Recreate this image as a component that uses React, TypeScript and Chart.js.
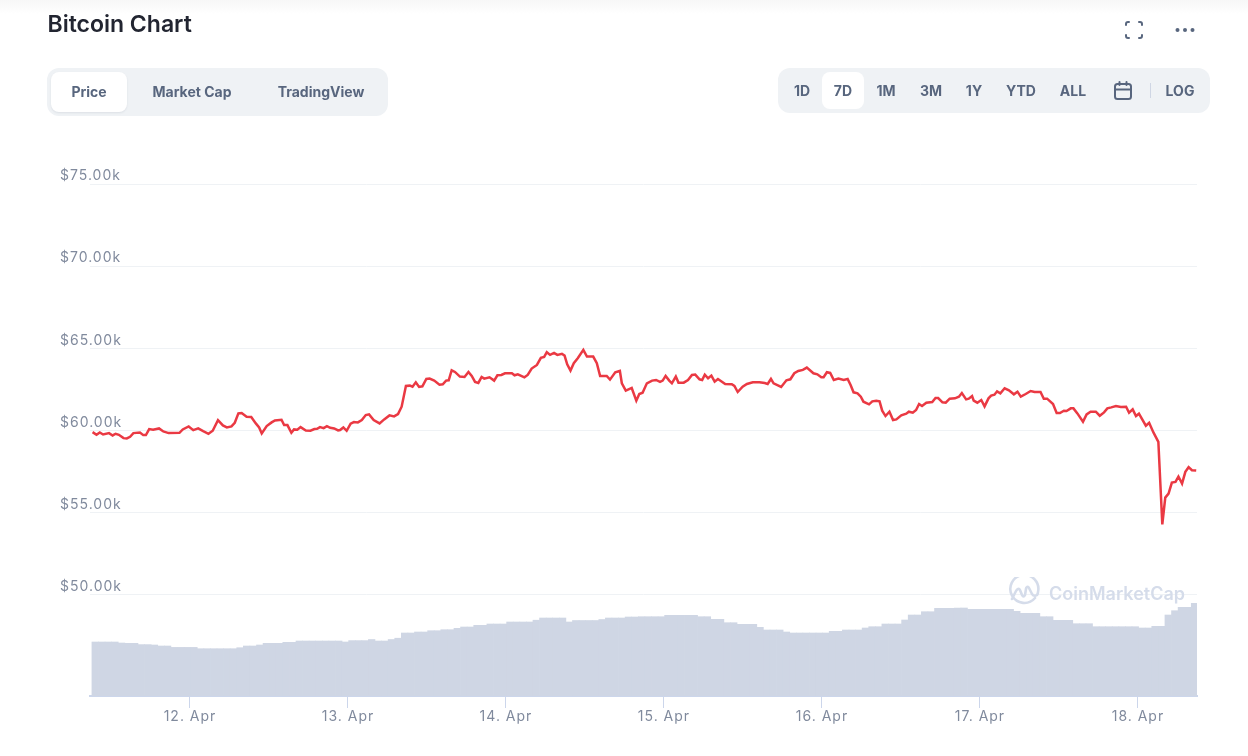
import React, { useEffect, useRef } from "react";
import { Chart, registerables } from "chart.js";

Chart.register(...registerables);

// Hours since 12 Apr 00:00
const priceHours = [
  -14.8,-14.2,-13.7,-13.2,-12.3,-11.75,-11.3,-10.8,-10.1,-9.6,-9.1,-8.6,-7.6,-7.1,-6.7,-6.2,-5.6,-4.7,-4.05,-3.25,-1.6,-1.1,-0.2,0.5,1.25,2.0,2.8,3.45,4.25,5.0,5.6,6.3,6.8,7.35,7.85,8.6,9.3,10.0,10.5,10.9,11.65,12.4,12.9,13.9,14.3,14.8,15.4,15.8,16.3,16.8,17.6,18.3,
  18.9,19.3,19.75,20.3,20.8,21.3,21.9,22.5,22.8,23.3,23.8,24.4,24.9,25.5,26.1,26.7,27.2,27.9,28.8,29.5,30.3,31.0,31.6,32.15,32.8,33.4,33.8,34.3,34.8,35.3,35.9,36.4,37.1,37.9,38.4,38.9,39.3,39.75,40.25,41.0,41.7,42.3,42.8,43.3,43.8,44.3,44.7,45.5,46.2,46.7,47.3,47.85,48.9,49.3,49.8,50.8,51.3,51.9,
  52.7,53.3,53.8,54.2,54.7,55.3,55.8,56.5,56.9,57.3,57.8,58.3,58.9,59.75,60.3,61.25,61.8,62.3,63.3,63.8,64.6,65.3,65.6,66.2,67.1,67.8,68.25,68.75,69.4,70.2,70.8,71.4,71.8,72.25,72.8,73.2,73.8,74.2,75.0,75.65,76.25,76.75,77.4,77.8,78.2,78.7,79.2,79.7,80.2,81.3,82.3,82.7,83.2,83.95,84.6,85.5,
  86.5,87.3,87.75,88.25,88.65,89.8,90.6,91.2,91.8,92.4,93.1,93.7,94.7,95.3,95.9,96.25,96.75,97.25,97.8,98.5,99.3,99.9,100.35,100.8,101.4,101.9,102.3,103.15,103.65,104.25,104.75,105.15,105.65,106.25,106.8,107.3,108.05,108.8,109.2,109.8,110.3,110.75,111.2,111.85,112.75,113.25,113.65,114.3,114.8,115.4,116.2,116.8,117.25,117.9,118.3,118.8,119.05,
  119.6,120.2,120.7,121.3,121.7,122.2,122.6,123.1,123.75,124.4,125.15,125.7,126.2,126.95,127.7,128.3,129.2,129.7,130.2,131.1,131.65,132.15,132.75,133.15,133.8,134.2,134.8,135.65,136.2,136.8,137.6,138.2,138.85,139.35,139.95,140.65,141.4,142.2,142.65,143.2,143.7,144.15,145.2,145.7,146.35,147.1,147.7,148.15,148.65,149.15,149.7,150.15,150.7,151.2,151.7,152.2,152.85,
];

// USD
const priceValues = [
  59908,59746,59888,59766,59847,59705,59807,59746,59542,59522,59624,59847,59888,59725,59725,60091,60050,60132,59949,59847,59868,60071,60254,60030,60132,59969,59807,59990,60640,60315,60193,60254,60478,61047,61067,60844,60823,60437,60193,59827,60274,60498,60620,60660,60335,60335,59868,60071,60050,60213,60010,59990,
  60092,60112,60214,60153,60275,60173,60132,60011,60031,60194,59990,60417,60519,60498,60641,60946,60987,60641,60438,60682,60925,60864,61007,61454,62715,62735,62674,62938,62653,62694,63141,63162,63040,62796,62816,63040,63060,63670,63568,63284,63263,63568,63324,62958,62897,63263,63162,63243,63040,63365,63385,63487,63487,63365,63426,63243,63385,63772,
  63995,64422,64483,64768,64605,64727,64605,64666,64564,64036,63650,64097,64402,64910,64504,64504,64097,63324,63324,63101,63548,63629,62877,62430,62592,61820,62227,62308,62877,63040,63080,62958,63040,63324,63040,62877,63284,62918,62918,63080,63385,63406,63121,63080,63406,63182,63345,62979,63141,62836,62816,62714,62349,62674,62836,62938,
  62938,62897,62836,63141,62877,62653,63060,63121,63487,63629,63690,63832,63487,63426,63243,63243,63548,63507,63080,63161,63080,63141,62775,62328,62267,62064,61759,61596,61779,61820,61779,61210,60885,61149,60641,60681,60925,61027,61149,61088,61251,61616,61494,61698,61738,61982,61982,61718,61698,61942,61962,62064,62287,61901,61942,62104,61820,
  61698,61860,61474,61962,62124,62185,62389,62267,62572,62450,62206,62368,62063,62226,62409,62348,62348,61941,61941,61616,61067,61067,61210,61189,61352,61352,61047,60539,60986,61149,61149,60905,61108,61352,61413,61494,61433,61454,61088,61291,60884,61027,60295,60478,59888,59319,54297,55924,56168,56839,56879,57205,56778,57489,57774,57591,57571,
];

// 24h volume in USD billions, one value per hour, first value at hour -14.4
const volumeStartHour = -14.4;
const volumeValues = [
  54,54,54,54,53,52.7,52.7,51.4,51.4,51,50,50,48.6,48.6,48.6,48.6,47.3,47.3,47.3,47.3,47.3,47.3,48.3,50,50,51,52.7,52.7,52.7,53.7,53.7,55,55,55,55,55,55,55,54,55.4,55.4,55.4,
  56.5,55,55,56.5,57.8,63,63,64,64,65.3,65.3,66.3,66.3,67.7,69,69,70.7,70.7,72,72,72,74,74,74,74,75.8,78,78,78,78,74,75.5,75.5,75.5,75.5,76.5,78,78,78,79,79,79.3,
  79.3,79.3,79.3,80.7,80.7,80.7,80.7,80.7,79.3,79.3,76.7,76.7,73.3,73.3,71.7,71.7,71.7,68.7,66,66,66,64,63,63,63,63,63,63,64.7,64.7,66,66,66,68,69.3,69.3,72,72,
  72,76,81,81,84.3,84.3,87.7,87.7,87.7,88,88,86.7,86.7,86.7,86.7,86.7,86.7,86.7,84.7,82.7,82.7,82.7,79.3,79.3,75.7,75.7,75.7,72.3,72.3,72.3,69.3,69.3,69.3,69.3,69.3,69.3,69.3,68,
  68,69.7,69.7,81,85.3,88.7,88.7,92.7,
];

const priceTicks = [50000, 55000, 60000, 65000, 70000, 75000];
const dayHours = [0, 24, 48, 72, 96, 120, 144];
const dayLabels = ["12. Apr", "13. Apr", "14. Apr", "15. Apr", "16. Apr", "17. Apr", "18. Apr"];
const chartTabs = ["Price", "Market Cap", "TradingView"];
const rangeTabs: [string, number][] = [["1D", 802], ["7D", 843], ["1M", 886], ["3M", 931], ["1Y", 974], ["YTD", 1021], ["ALL", 1073], ["LOG", 1180]];

const FONT = "Inter, sans-serif";
const abs = (o: React.CSSProperties): React.CSSProperties => ({ position: "absolute", ...o });

function centered(text: string, cx: number, cy: number, extra: React.CSSProperties = {}) {
  return (
    <div key={text} style={abs({ left: cx - 60, width: 120, top: cy - 12, height: 24, lineHeight: "24px", textAlign: "center", fontSize: 14, fontWeight: 700, color: "#58667e", ...extra })}>
      {text}
    </div>
  );
}

const spacedTicks = {
  id: "spacedTicks",
  beforeDraw(chart: any) {
    chart.ctx.letterSpacing = "1px";
  },
};

export default function App() {
  const ref = useRef<HTMLCanvasElement>(null);
  useEffect(() => {
    const chart = new Chart(ref.current!, {
      plugins: [spacedTicks],
      data: {
        datasets: [
          {
            type: "line",
            data: priceHours.map((x, i) => ({ x, y: priceValues[i] })),
            borderColor: "#ea3943",
            borderWidth: 2.5,
            pointRadius: 0,
            tension: 0,
            yAxisID: "y",
            order: 1,
          },
          {
            type: "bar",
            data: volumeValues.map((y, i) => ({ x: volumeStartHour + i, y })),
            backgroundColor: "#cfd6e4",
            barPercentage: 1,
            categoryPercentage: 1,
            yAxisID: "vol",
            order: 2,
          },
        ],
      } as any,
      options: {
        responsive: false,
        devicePixelRatio: 1,
        animation: false,
        layout: { padding: { left: 0, right: 51, top: 184, bottom: 0 } },
        plugins: { legend: { display: false }, tooltip: { enabled: false } },
        scales: {
          x: {
            type: "linear",
            min: -15.19,
            max: 152.97,
            offset: false,
            afterBuildTicks: (s: any) => { s.ticks = dayHours.map((value) => ({ value })); },
            afterFit: (s: any) => { s.height = 60; },
            border: { color: "#ccd6eb", width: 2 },
            grid: { offset: false, drawOnChartArea: false, drawTicks: true, tickLength: 12, tickColor: "#ccd6eb", tickWidth: 1 },
            ticks: {
              autoSkip: false,
              maxRotation: 0,
              padding: 0,
              color: "#808a9d",
              font: { family: FONT, size: 14 },
              callback: (v: any) => dayLabels[dayHours.indexOf(Number(v))] ?? "",
            },
          },
          y: {
            type: "linear",
            position: "left",
            min: 43856,
            max: 75000,
            afterBuildTicks: (s: any) => { s.ticks = priceTicks.map((value) => ({ value })); },
            afterFit: (s: any) => { s.width = 90; },
            border: { display: false },
            grid: { color: "#eff2f5", drawTicks: false, lineWidth: 1 },
            ticks: {
              mirror: true,
              padding: -30,
              labelOffset: -8,
              color: "#808a9d",
              font: { family: FONT, size: 14 },
              callback: (v: any) => "$" + (Number(v) / 1000).toFixed(2) + "k",
            },
          },
          vol: { type: "linear", display: false, min: 0, max: 512 },
        },
      },
    });
    return () => chart.destroy();
  }, []);

  return (
    <div style={abs({ left: 0, top: 0, width: 1248, height: 756, overflow: "hidden", background: "#fff", fontFamily: FONT })}>
      <div style={abs({ left: 0, top: 0, width: 1248, height: 14, background: "linear-gradient(#f7f7f7,#ffffff)" })} />
      <canvas ref={ref} width={1248} height={756} style={abs({ left: 0, top: 0, display: "block" })} />

      <div style={abs({ left: 47.5, top: 10, height: 28, lineHeight: "28px", fontSize: 23, fontWeight: 600, color: "#222531", whiteSpace: "nowrap" })}>Bitcoin Chart</div>

      <svg width="22" height="22" style={abs({ left: 1123, top: 19 })} fill="none" stroke="#58667e" strokeWidth="2" strokeLinecap="round">
        <path d="M3 6V5a2 2 0 0 1 2-2h1M16 3h1a2 2 0 0 1 2 2v1M19 16v1a2 2 0 0 1-2 2h-1M6 19H5a2 2 0 0 1-2-2v-1" />
      </svg>
      <svg width="22" height="8" style={abs({ left: 1174, top: 26 })} fill="#58667e">
        <circle cx="3.5" cy="4" r="2" /><circle cx="11" cy="4" r="2" /><circle cx="18.5" cy="4" r="2" />
      </svg>

      <div style={abs({ left: 47, top: 68, width: 341, height: 48, background: "#eff2f5", borderRadius: 12 })} />
      <div style={abs({ left: 51, top: 72, width: 76, height: 40, background: "#fff", borderRadius: 8, boxShadow: "0 1px 2px rgba(88,102,126,0.12)" })} />
      {centered(chartTabs[0], 89, 92)}
      {centered(chartTabs[1], 192, 92)}
      {centered(chartTabs[2], 321, 92)}

      <div style={abs({ left: 778, top: 68, width: 432, height: 45, background: "#eff2f5", borderRadius: 12 })} />
      <div style={abs({ left: 822, top: 72, width: 42, height: 37, background: "#fff", borderRadius: 8 })} />
      {rangeTabs.map(([t, cx]) => centered(t, cx, 91))}
      <svg width="20" height="20" style={abs({ left: 1113, top: 81 })} fill="none" stroke="#58667e" strokeWidth="2" strokeLinecap="round">
        <rect x="2" y="3" width="16" height="15" rx="2.5" /><path d="M2 8.5H18M6.5 1V4M13.5 1V4" />
      </svg>
      <div style={abs({ left: 1150, top: 83, width: 1, height: 15, background: "#cfd6e4" })} />

      <svg width="32" height="32" style={abs({ left: 1008, top: 577 })} fill="none" stroke="#d5dcea" strokeWidth="2.6" strokeLinecap="round" strokeLinejoin="round">
        <path d="M27 21A14 14 0 1 1 30 15c0 4-4 5-6 2l-3-6c-1-2-3-1-3 1l-1 6c-1 2-2 2-3 0l-2-5c-1-2-3-1-4 1l-4 8" />
      </svg>
      <div style={abs({ left: 1049, top: 582, height: 24, lineHeight: "24px", fontSize: 18, fontWeight: 600, color: "#d5dcea", whiteSpace: "nowrap" })}>CoinMarketCap</div>
    </div>
  );
}
